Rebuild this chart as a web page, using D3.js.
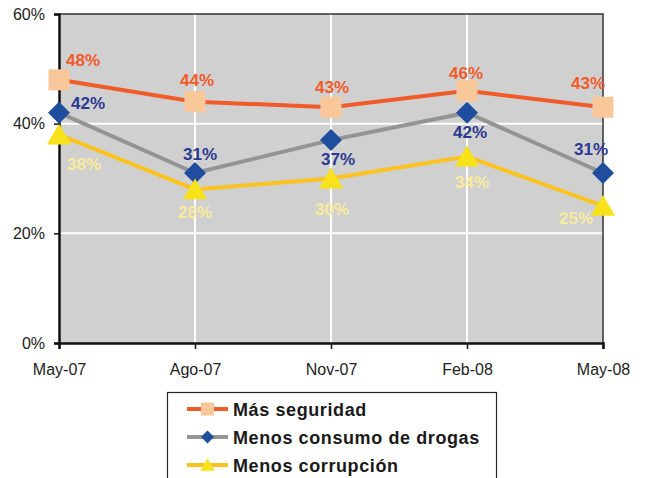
<!DOCTYPE html>
<html>
<head>
<meta charset="utf-8">
<script src="https://cdn.jsdelivr.net/npm/d3@7"></script>
<style>
  body { margin: 0; background: #fff; }
  svg { display: block; font-family: "Liberation Sans", Arial, sans-serif; }
</style>
</head>
<body>
<svg id="chart" width="645" height="478"></svg>
<script>
// Data ==================================================================
var periods = ["May-07", "Ago-07", "Nov-07", "Feb-08", "May-08"];
var yTicks = [0, 20, 40, 60];
var seguridad = [48, 44, 43, 46, 43];
var drogas = [42, 31, 37, 42, 31];
var corrupcion = [38, 28, 30, 34, 25];
var seriesNames = ["Más seguridad", "Menos consumo de drogas", "Menos corrupción"];

// label offsets (dx, dy from the marker), one per point
var labelOffsets = [
  [[24, -20], [2, -22], [1, -20], [-1, -18], [-15, -24]],
  [[29, -10], [5, -19], [7, 19], [3, 19], [-12, -24]],
  [[25, 29], [0, 23], [1, 30], [5, 25], [-27, 12]]
];

var series = [
  { name: seriesNames[0], values: seguridad, line: "#f15a29", fill: "#f8c89a", text: "#f15a29", shape: "square" },
  { name: seriesNames[1], values: drogas, line: "#949494", fill: "#1f4e9f", text: "#2b3990", shape: "diamond" },
  { name: seriesNames[2], values: corrupcion, line: "#fbc31f", fill: "#f7e21b", text: "#f8eb9c", shape: "triangle" }
];

// Layout ================================================================
var svg = d3.select("#chart");
var plotLeft = 59, plotRight = 603, plotTop = 14, plotBottom = 343;

var x = d3.scalePoint().domain(periods).range([plotLeft, plotRight]);
var y = d3.scaleLinear().domain([0, 60]).range([plotBottom, plotTop]);

// plot background
svg.append("rect")
  .attr("x", plotLeft).attr("y", plotTop)
  .attr("width", plotRight - plotLeft).attr("height", plotBottom - plotTop)
  .attr("fill", "#d0d0d0");

// gridlines
svg.append("g").selectAll("line")
  .data(periods.slice(1, -1))
  .enter().append("line")
  .attr("x1", function(d) { return x(d); }).attr("x2", function(d) { return x(d); })
  .attr("y1", plotTop).attr("y2", plotBottom)
  .attr("stroke", "#fff").attr("stroke-width", 2);

svg.append("g").selectAll("line")
  .data(yTicks.slice(1, -1))
  .enter().append("line")
  .attr("x1", plotLeft).attr("x2", plotRight)
  .attr("y1", function(d) { return y(d); }).attr("y2", function(d) { return y(d); })
  .attr("stroke", "#fff").attr("stroke-width", 2);

// top / right border
svg.append("path")
  .attr("d", "M" + plotLeft + "," + plotTop + "H" + plotRight + "V" + plotBottom)
  .attr("fill", "none").attr("stroke", "#333").attr("stroke-width", 1.5);

// axes
var yAxis = svg.append("g")
  .attr("transform", "translate(" + plotLeft + ",0)")
  .call(d3.axisLeft(y).tickValues(yTicks).tickSize(5).tickPadding(9)
    .tickFormat(function(d) { return d + "%"; }));

var xAxis = svg.append("g")
  .attr("transform", "translate(0," + plotBottom + ")")
  .call(d3.axisBottom(x).tickSize(6).tickPadding(15));

[xAxis, yAxis].forEach(function(ax) {
  ax.select(".domain").attr("stroke", "#111").attr("stroke-width", 2.5);
  ax.selectAll(".tick line").attr("stroke", "#111").attr("stroke-width", 1.5);
  ax.selectAll("text").attr("fill", "#222").style("font-size", "16px")
    .style("font-family", "'Liberation Sans', Arial, sans-serif");
});

// markers
function marker(sel, shape, size) {
  var s = size / 2;
  if (shape === "square") {
    return sel.append("rect").attr("x", -s).attr("y", -s).attr("width", size).attr("height", size);
  } else if (shape === "diamond") {
    return sel.append("path").attr("d", "M0," + (-s) + "L" + s + ",0L0," + s + "L" + (-s) + ",0Z");
  }
  return sel.append("path").attr("d", "M0," + (-s) + "L" + (s * 1.1) + "," + (s * 0.9) + "L" + (-s * 1.1) + "," + (s * 0.9) + "Z");
}

var line = d3.line()
  .x(function(d, i) { return x(periods[i]); })
  .y(function(d) { return y(d); });

series.forEach(function(s) {
  var g = svg.append("g");
  g.append("path")
    .datum(s.values)
    .attr("d", line)
    .attr("fill", "none")
    .attr("stroke", s.line)
    .attr("stroke-width", 4);
  s.values.forEach(function(v, i) {
    var m = g.append("g").attr("transform", "translate(" + x(periods[i]) + "," + y(v) + ")");
    marker(m, s.shape, s.shape === "square" ? 21 : 22).attr("fill", s.fill);
  });
});

// value labels
series.forEach(function(s, k) {
  svg.append("g").selectAll("text")
    .data(s.values)
    .enter().append("text")
    .attr("x", function(d, i) { return x(periods[i]) + labelOffsets[k][i][0]; })
    .attr("y", function(d, i) { return y(d) + labelOffsets[k][i][1] + 6; })
    .attr("text-anchor", "middle")
    .attr("fill", s.text)
    .style("font-size", "17px")
    .style("font-weight", "bold")
    .text(function(d) { return d + "%"; });
});

// Legend ================================================================
var legend = svg.append("g");
legend.append("rect")
  .attr("x", 167.5).attr("y", 392.5)
  .attr("width", 329).attr("height", 100)
  .attr("fill", "#fff").attr("stroke", "#222").attr("stroke-width", 1.2);

series.forEach(function(s, i) {
  var cy = 409 + i * 28;
  var row = legend.append("g").attr("transform", "translate(0," + cy + ")");
  row.append("line")
    .attr("x1", 187).attr("x2", 228)
    .attr("stroke", s.line).attr("stroke-width", 4);
  var m = row.append("g").attr("transform", "translate(207.5,0)");
  marker(m, s.shape, 13).attr("fill", s.fill);
  row.append("text")
    .attr("x", 233).attr("y", 6.5)
    .attr("fill", "#1a1a1a")
    .style("font-size", "18px")
    .style("font-weight", "bold")
    .style("letter-spacing", "0.6px")
    .text(s.name);
});
</script>
</body>
</html>
